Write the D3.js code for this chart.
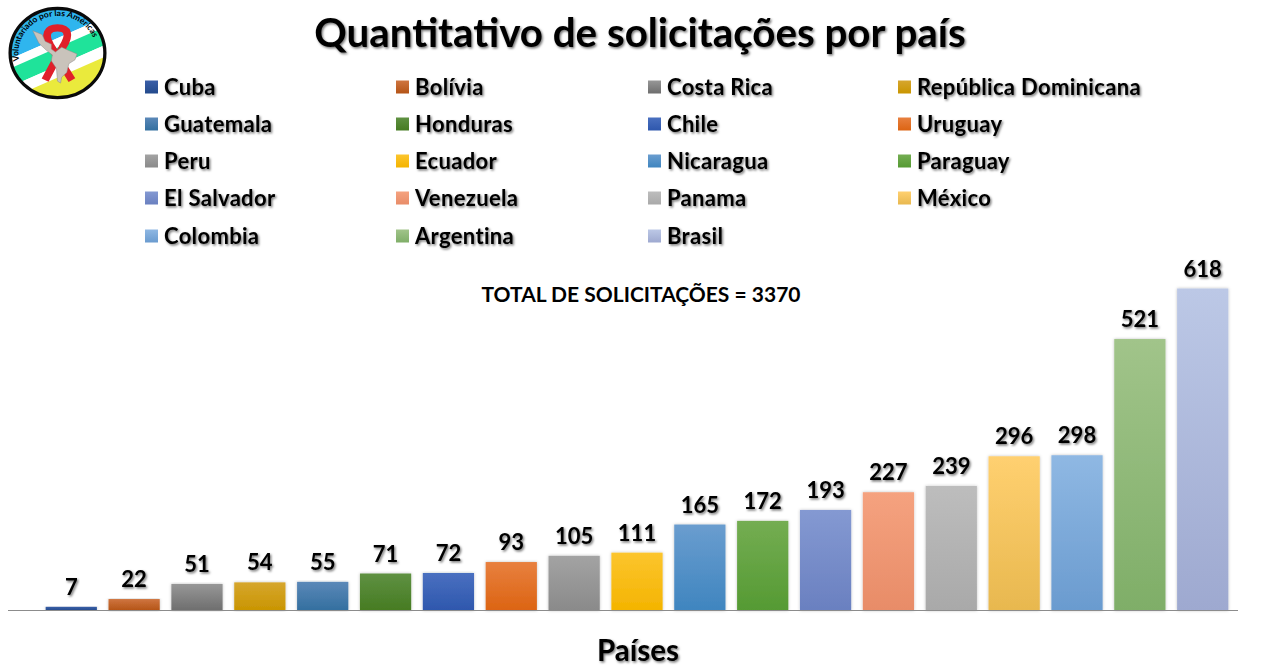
<!DOCTYPE html>
<html><head><meta charset="utf-8">
<style>html,body{margin:0;padding:0;background:#fff}svg{display:block}text{font-family:Lato,"Open Sans",sans-serif;font-weight:700;fill:#000}</style>
<script src="https://cdn.jsdelivr.net/npm/d3@7"></script></head><body>
<script>
const countries=["Cuba","Bolívia","Costa Rica","República Dominicana","Guatemala","Honduras","Chile","Uruguay","Peru","Ecuador","Nicaragua","Paraguay","El Salvador","Venezuela","Panama","México","Colombia","Argentina","Brasil"];
const requests=[7,22,51,54,55,71,72,93,105,111,165,172,193,227,239,296,298,521,618];
const topColors=["#3a5fa8","#cf7540","#979797","#d6a62e","#5b88b8","#5f9142","#4a70c0","#e8803f","#a3a3a3","#fcc52e","#6a9dcf","#74ad52","#8499d2","#f5a27f","#bdbdbd","#ffd070","#8fb8e3","#a1c48a","#bcc8e6"];
const bottomColors=["#234a8c","#b45416","#6e6e6e","#c99500","#336f9f","#467b22","#2e57ad","#dc6413","#8a8a8a","#f4b400","#3f85bf","#559a33","#6a80c0","#e88c68","#a9a9a9","#e8b84f","#6a9bcf","#7fae68","#9ea9d0"];
const legendLayout={columns:4};
const title="Quantitativo de solicitações por país",total="TOTAL DE SOLICITAÇÕES = 3370",axisTitle="Países",logoText="Voluntariado por las Américas";

const W=1273,H=666;
const svg=d3.select("body").append("svg").attr("width",W).attr("height",H);
const defs=svg.append("defs");
const shadow=defs.append("filter").attr("id","ts").attr("x","-10%").attr("y","-20%").attr("width","120%").attr("height","150%");
shadow.append("feDropShadow").attr("dx",1.3).attr("dy",1.5).attr("stdDeviation",1.1).attr("flood-color","#000").attr("flood-opacity",.55);
const barShadow=defs.append("filter").attr("id","bs").attr("x","-10%").attr("y","-5%").attr("width","120%").attr("height","110%");
barShadow.append("feDropShadow").attr("dx",0).attr("dy",0).attr("stdDeviation",1.5).attr("flood-color","#000").attr("flood-opacity",.25);
countries.forEach((c,i)=>{
  const g=defs.append("linearGradient").attr("id","g"+i).attr("x1",0).attr("x2",0).attr("y1",0).attr("y2",1);
  g.append("stop").attr("offset",0).attr("stop-color",topColors[i]);
  g.append("stop").attr("offset",1).attr("stop-color",bottomColors[i]);
});
const x=d3.scaleBand().domain(countries).range([40,1234]).paddingInner(.185).paddingOuter(.09);
const y=d3.scaleLinear().domain([0,618]).range([610.5,288.5]);

// title
svg.append("text").attr("x",640).attr("y",47).attr("text-anchor","middle").attr("font-size",40.3).attr("filter","url(#ts)").text(title);

// legend
const legendX=d3.scaleOrdinal().domain([0,1,2,3]).range([145,396,648,898]);
const legendY=d3.scaleOrdinal().domain([0,1,2,3,4]).range([87,124,161,198,236]);
const lg=svg.append("g").selectAll("g").data(countries).join("g")
  .attr("transform",(d,i)=>`translate(${legendX(i%legendLayout.columns)},${legendY(Math.floor(i/legendLayout.columns))})`);
lg.append("rect").attr("x",0).attr("y",-6.5).attr("width",13).attr("height",13).attr("fill",(d,i)=>`url(#g${i})`);
lg.append("text").attr("x",19).attr("y",7.5).attr("font-size",22).attr("letter-spacing",.33).attr("filter","url(#ts)").text(d=>d);

// total
svg.append("text").attr("x",641).attr("y",302).attr("text-anchor","middle").attr("font-size",21).text(total);

// bars
svg.append("g").selectAll("rect").data(countries).join("rect")
  .attr("x",d=>x(d)).attr("width",x.bandwidth())
  .attr("y",(d,i)=>y(requests[i])).attr("height",(d,i)=>y(0)-y(requests[i]))
  .attr("fill",(d,i)=>`url(#g${i})`).attr("filter","url(#bs)");
// labels
svg.append("g").selectAll("text").data(countries).join("text")
  .attr("x",d=>x(d)+x.bandwidth()/2).attr("y",(d,i)=>y(requests[i])-12)
  .attr("text-anchor","middle").attr("font-size",22).attr("filter","url(#ts)").text((d,i)=>requests[i]);
// axis
const axis=d3.axisBottom(x).tickSize(0).tickFormat("");
const ax=svg.append("g").attr("transform","translate(0,610)").call(axis);
ax.select(".domain").attr("d","M8,0.5H1238").attr("stroke","#8c8c8c").attr("stroke-width",1.2);
svg.append("text").attr("x",638).attr("y",661).attr("text-anchor","middle").attr("font-size",29.5).attr("filter","url(#ts)").text(axisTitle);

// logo
const logo=svg.append("g").attr("transform","translate(57.5,53) scale(1.03,.97)");
const clip=defs.append("clipPath").attr("id","lc");clip.append("circle").attr("r",46);
const st=logo.append("g").attr("clip-path","url(#lc)");
st.append("rect").attr("x",-50).attr("y",-50).attr("width",100).attr("height",100).attr("fill","#fff");
const bands=[["#2fb5ee",-62,-14],["#ffffff",-14,-5],["#1fe39a",-5,12],["#ffffff",12,23],["#eaea3c",23,62]];
bands.forEach(b=>st.append("rect").attr("x",-90).attr("width",180).attr("y",b[1]).attr("height",b[2]-b[1]).attr("fill",b[0]).attr("transform","rotate(-25)"));
// ribbon
logo.append("path").attr("d","M-12,28 L5,-6 C13,-19 10,-26 0,-26 C-10,-26 -13,-19 -7,-8 L14,28").attr("fill","none").attr("stroke","#e0202a").attr("stroke-width",7.5);
// map silhouette
logo.append("path").attr("d","M-24,-23 L-15,-19 L-12,-12 L-6,-9 L-6,-4 L-2,-1 L4,-6 L10,-3 L19,1 L17,7 L11,11 L9,20 L4,25 L3,31 L0,29 L-1,16 L-6,8 L-5,2 L-11,-3 L-18,-10 Z").attr("fill","#c9c3bb").attr("stroke","#8d8a86").attr("stroke-width",.5);
logo.append("circle").attr("r",46).attr("fill","none").attr("stroke","#0a0a0a").attr("stroke-width",3.2);
defs.append("path").attr("id","la").attr("d","M-37,8 A38,38 0 1 1 37,9");
logo.append("text").attr("font-size",8.4).attr("fill","#111").append("textPath").attr("href","#la").attr("startOffset","0%").text(logoText);
</script></body></html>
